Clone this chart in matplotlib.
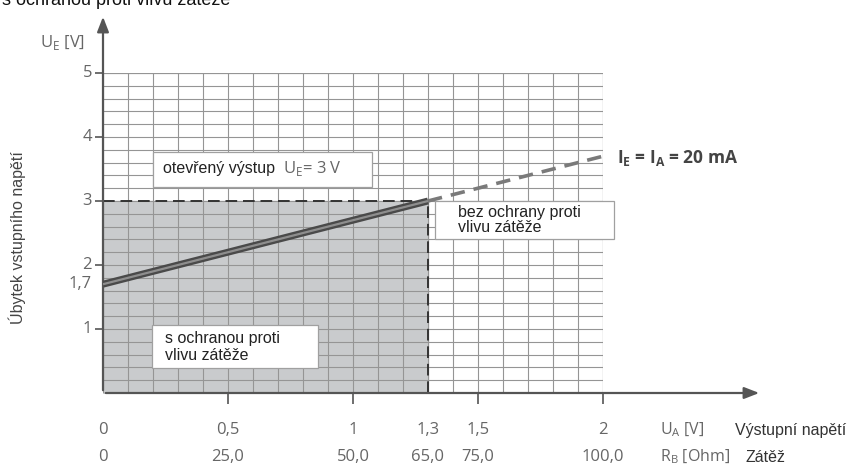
import numpy as np
import matplotlib.pyplot as plt
from matplotlib.patches import Rectangle
from matplotlib.ticker import MultipleLocator

# =========================
# Data
# =========================
ua_ticks = [0, 0.5, 1, 1.3, 1.5, 2]
ua_labels = ["0", "0,5", "1", "1,3", "1,5", "2"]
rb_labels = ["0", "25,0", "50,0", "65,0", "75,0", "100,0"]

ue_ticks = [1, 1.7, 2, 3, 4, 5]
ue_labels = ["1", "1,7", "2", "3", "4", "5"]

line_x = [0.0, 1.3]        # s ochranou (plna cara)
line_y = [1.7, 3.0]
ext_x = [1.3, 2.0]         # bez ochrany (carkovane)
ext_y = [3.0, 3.7]

ue_open = 3.0
ua_limit = 1.3

plt.rcParams["font.family"] = ["Open Sans", "DejaVu Sans"]
plt.rcParams["mathtext.fontset"] = "custom"
plt.rcParams["mathtext.rm"] = "Open Sans"
plt.rcParams["mathtext.bf"] = "Open Sans:bold"

GRAY = "#666666"
W, H = 857, 467
X0, Y0, SX, SY = 103, 393, 250.0, 64.0   # pixel mapping of data origin


def px(x, y):
    # pixel (from top-left) -> data coordinates
    return (x - X0) / SX, (Y0 - y) / SY


fig = plt.figure(figsize=(W / 100, H / 100), dpi=100)
ax = fig.add_axes([X0 / W, (H - Y0) / H, 2 * SX / W, 5 * SY / H])
ax.set_xlim(0, 2)
ax.set_ylim(0, 5)
for s in ax.spines.values():
    s.set_visible(False)

# grid
ax.xaxis.set_major_locator(plt.FixedLocator([0.5, 1, 1.5, 2]))
ax.xaxis.set_minor_locator(MultipleLocator(0.1))
ax.yaxis.set_major_locator(plt.FixedLocator([1, 2, 3, 4, 5]))
ax.yaxis.set_minor_locator(MultipleLocator(0.2))
ax.set_xticklabels([])
ax.set_yticklabels([])
ax.tick_params(which="minor", length=0)
ax.tick_params(axis="x", which="major", direction="out", length=8, width=1.2, color="#555555")
ax.tick_params(axis="y", which="major", direction="out", length=6, width=1.2, color="#555555")
ax.set_axisbelow(True)
ax.grid(which="both", color="#959595", lw=0.8)
ax.plot([0, 2, 2], [5, 5, 0], color="#959595", lw=0.8, zorder=0.6)

# shaded area s ochranou
ax.fill_between([0, ua_limit], 0, ue_open, color="#c9cbcd", zorder=0.2)
ax.plot([0, ua_limit], [ue_open, ue_open], color="#333333", lw=1.4, dashes=(6, 3), zorder=3)
ax.plot([ua_limit, ua_limit], [0, ue_open], color="#333333", lw=1.4, dashes=(6, 3), zorder=3)

# characteristic
ax.plot(ext_x, ext_y, color="#7a7a7a", lw=2.6, dashes=(4, 2.5), zorder=4, clip_on=False)
ax.plot(line_x, line_y, color="#4a4a4a", lw=5, solid_capstyle="butt", zorder=5)
ax.plot(line_x, line_y, color="#8e8e8e", lw=1.6, solid_capstyle="butt", zorder=6)

# axes arrows
arr = dict(arrowstyle="-|>,head_length=0.9,head_width=0.35", color="#555555", lw=1.6)
ax.annotate("", xy=px(X0, 14), xytext=(0, 0), arrowprops=arr, annotation_clip=False)
ax.annotate("", xy=px(762, Y0), xytext=(0, 0), arrowprops=arr, annotation_clip=False)

# tick labels
for t, l in zip(ue_ticks, ue_labels):
    ax.text(px(92, 0)[0], t, l, ha="right", va="center", fontsize=12, color=GRAY, clip_on=False)
for t, l1, l2 in zip(ua_ticks, ua_labels, rb_labels):
    ax.text(t, px(0, 430)[1], l1, ha="center", va="center", fontsize=12, color=GRAY, clip_on=False)
    ax.text(t, px(0, 457)[1], l2, ha="center", va="center", fontsize=12, color=GRAY, clip_on=False)

ax.text(*px(660, 430), r"U$_\mathrm{A}$ [V]", ha="left", va="center", fontsize=11.5, color=GRAY)
ax.text(*px(735, 430), "Výstupní napětí", ha="left", va="center", fontsize=11.5,
        color="#333333", family="Liberation Sans")
ax.text(*px(660, 457), r"R$_\mathrm{B}$ [Ohm]", ha="left", va="center", fontsize=11.5, color=GRAY)
ax.text(*px(745, 457), "Zátěž", ha="left", va="center", fontsize=11.5,
        color="#333333", family="Liberation Sans")

ax.text(*px(40, 42), r"U$_\mathrm{E}$ [V]", ha="left", va="center", fontsize=12, color=GRAY)
ax.text(*px(17, 238), "Úbytek vstupního napětí", ha="center", va="center", rotation=90,
        fontsize=11.5, color="#444444", family="Liberation Sans")

# boxes
def box(x1, y1, x2, y2):
    a = px(x1, y2)
    b = px(x2, y1)
    ax.add_patch(Rectangle(a, b[0] - a[0], b[1] - a[1], facecolor="white",
                           edgecolor="#a0a0a0", lw=0.9, zorder=7, clip_on=False))


box(153, 152, 372, 187)
ax.text(*px(163, 169), "otevřený výstup", ha="left", va="center", fontsize=11.5,
        color="#222222", family="Liberation Sans", zorder=8)
ax.text(*px(283, 169), r"U$_\mathrm{E}$= 3 V", ha="left", va="center", fontsize=12,
        color=GRAY, zorder=8)

box(435, 201, 614, 239)
ax.text(*px(458, 220), "bez ochrany proti\nvlivu zátěže", ha="left", va="center",
        fontsize=11.5, color="#222222", family="Liberation Sans", linespacing=1.05, zorder=8)

box(152, 325, 318, 368)
ax.text(*px(165, 347), "s ochranou proti\nvlivu zátěže", ha="left", va="center",
        fontsize=11.5, color="#222222", family="Liberation Sans", linespacing=1.15, zorder=8)

ax.text(*px(617, 158), r"I$_\mathbf{E}$ = I$_\mathbf{A}$ = 20 mA", ha="left", va="center",
        fontsize=12.5, fontweight="bold", color="#444444")

# cut title at top
fig.text(2 / W, 1 - 5 / H, "s ochranou proti vlivu zátěže", ha="left", va="baseline",
         fontsize=13, color="#111111", family="Liberation Sans")

fig.savefig("out.png", dpi=100)
